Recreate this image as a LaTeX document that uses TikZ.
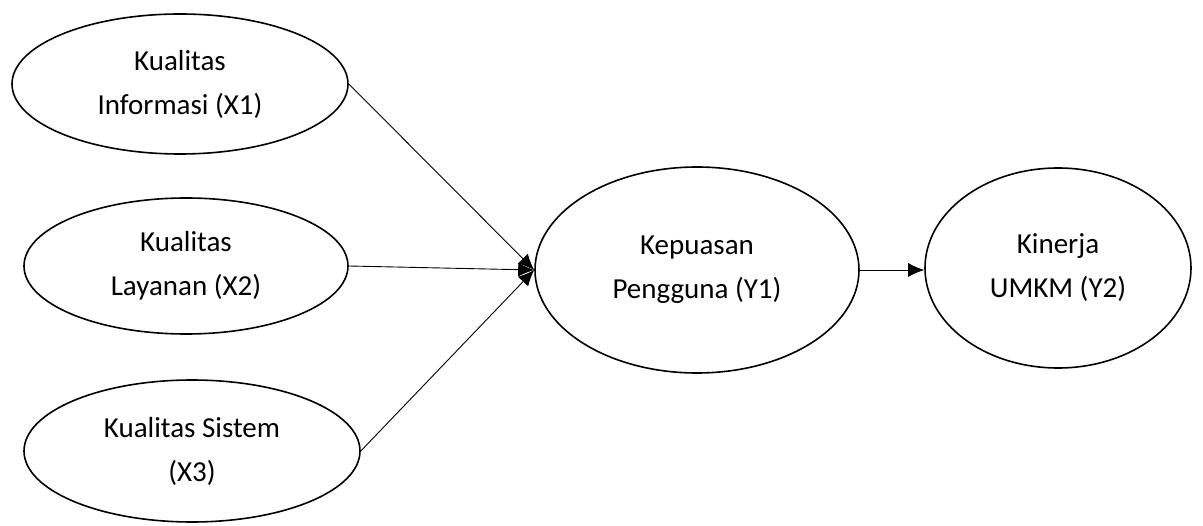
\documentclass[tikz,border=0pt]{standalone}
\usepackage{fontspec}
\setmainfont{Carlito}
\usetikzlibrary{shapes.geometric, arrows.meta, positioning}
\tikzstyle{latent} = [ellipse, draw=black, line width=1.6pt, align=center, font=\fontsize{29}{44}\selectfont, inner sep=0pt]
\tikzstyle{arrow} = [line width=0.9pt,-{Latex[length=16pt,width=14pt]}]

\begin{document}
\begin{tikzpicture}[x=1pt, y=-1pt]
\useasboundingbox (0,0) rectangle (1203,526);

% Exogenous
\node (x1) [latent, minimum width=336pt, minimum height=140pt] at (180,84) {Kualitas\\Informasi (X1)};
\node (x2) [latent, minimum width=324pt, minimum height=136pt] at (186,266) {Kualitas\\Layanan (X2)};
\node (x3) [latent, minimum width=336pt, minimum height=142pt] at (192,451) {Kualitas Sistem\\(X3)};

% Endogenous
\node (y1) [latent, minimum width=324pt, minimum height=206pt] at (697,270) {Kepuasan\\Pengguna (Y1)};
\node (y2) [latent, minimum width=266pt, minimum height=200pt] at (1058,268) {Kinerja\\UMKM (Y2)};

% Arrows
\draw [arrow] (x1.east) -- (y1.west);
\draw [arrow] (x2.east) -- (y1.west);
\draw [arrow] (x3.east) -- (y1.west);
\draw [arrow] (y1.east) -- (y1.east -| y2.west);

\end{tikzpicture}
\end{document}
